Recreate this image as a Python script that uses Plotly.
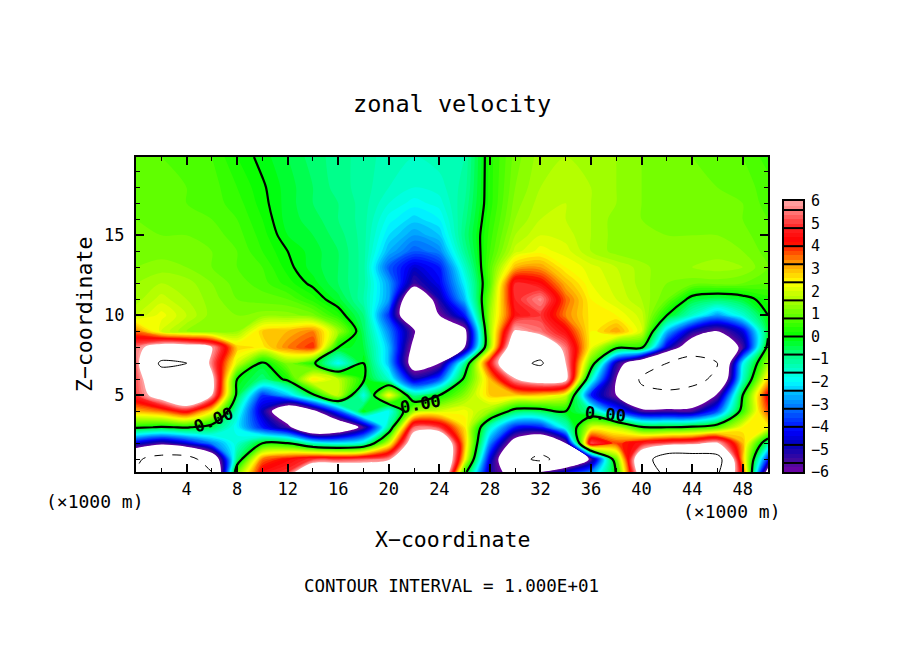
import numpy as np
import plotly.graph_objects as go

x_km = [0,2,4,6,8,10,12,14,16,18,20,22,24,26,28,30,32,34,36,38,40,42,44,46,48,50]
z_km = [0.2,1,2,3,4,5,6,7,8,9,10,11,12,13,14,15,16,17,18,19.9]

u_00 = [-10,-10.5,-11,-10,1,4.5,5,8.5,8.5,8,8.5,9,9.5,.4,-5,-7,-6,-4.5,-3,.1,7.5,11,11,10.5,4,-7]
u_01 = [-9.5,-11.5,-11.5,-8,-.8,3.5,4.3,5,5,5.3,5.8,9,9.8,2.5,-4.5,-9,-10.6,-9,-5.7,1,8,12.5,12.5,11.5,3,-4]
u_02 = [-4.5,-5.5,-4.5,-3,-1.6,0,0,-1.5,-2,-1.5,2,7.5,9,3,-3,-7,-8.5,-6,5.2,3.8,4.6,5.2,5.5,6.2,3,-1]
u_03 = [.2,-.1,.1,-.5,-2,-4,-5.5,-9,-8,-5.5,-1,5.4,5,2.6,-1.5,-4,-4,-1.5,2,1.8,.1,0,.2,.7,2.4,2.4]
u_04 = [3,3.5,4.5,2.5,-1.5,-4.8,-8,-6.5,-3.5,0,-2,1.5,2,2.3,1.4,-.5,-.5,0,-1,-3.5,-5.5,-5.5,-5.5,-3.5,.5,3.8]
u_05 = [5,7,9,6,-.3,-3.8,-2.5,-.2,2,-1.8,2.5,-1,0,1.3,2.8,2.8,2.8,2,-4,-6,-9,-9,-8,-5.8,0,4.4]
u_06 = [5.2,8,8,6.5,0,-.8,.2,2.6,1.8,.1,-1.5,-4.8,-3.5,.3,3,5.9,7,6.5,-1.5,-6,-10.5,-12,-11.5,-9,-1.5,2.8]
u_07 = [5.4,10.6,10.1,5.5,2,-.2,1.2,.2,-2,0,-2.5,-7,-6,-1,4.5,9,10.5,6,.8,-5,-8,-10,-12,-10,-2,1.5]
u_08 = [5.5,7,7,6,2.8,2.5,3.4,4,0,-.4,-2.5,-6.5,-8.8,-6,1.5,8,8,5.5,2.3,.3,.3,-4.5,-7.5,-8.5,-5.5,.4]
u_09 = [3.5,2,1.4,1.2,1.4,2.8,3,3.4,1.5,-.6,-3,-5.8,-8.8,-6.5,1.5,6.2,5.5,4.4,2.4,3.2,2,-2.5,-5,-6,-4.5,-.3]
u_10 = [1.8,2.3,1.8,1.3,1.2,1.3,1.3,1.1,.3,-.8,-3.8,-8.8,-6,-4,1.5,4.5,5,3.4,2.5,2.4,1.9,0,-1.5,-2.8,-1.6,0]
u_11 = [1.5,1.9,1.6,1.3,1,.9,.8,.3,-.3,-1.2,-2.8,-8.5,-5,-2.5,1.2,4.8,5.7,3.6,2.4,2,1.6,1,-.3,-.6,-.3,.3]
u_12 = [1.4,1.6,1.5,1.2,.9,.7,.3,-.1,-.6,-1.1,-2.8,-5.4,-4.3,-2,.8,4.8,4.4,3,2.2,1.9,1.5,1.2,1.1,1.1,1,.8]
u_13 = [1.2,1.3,1.2,1,.8,.6,.1,-.3,-.6,-1.1,-3.4,-4.6,-4,-1.5,.8,3,3.2,2.4,2.1,1.8,1.5,1.2,1.4,1.5,1.4,1]
u_14 = [1.1,1.1,1.1,1,.8,.4,0,-.3,-.6,-1.1,-2.6,-3.4,-3,-1,.6,1.9,2.3,2.1,1.6,1.3,1.2,1.3,1.3,1.3,1.2,.9]
u_15 = [1,1,1,.9,.7,.3,-.2,-.4,-.7,-1.1,-2.2,-2.8,-2.4,-.8,.5,1.6,2,1.9,1.6,1.3,1.2,1.2,1.2,1.2,1.1,.8]
u_16 = [1,.9,.9,.8,.6,.2,-.3,-.5,-.8,-1.1,-1.9,-2.3,-2,-.9,.4,1.4,1.8,1.8,1.6,1.3,1.2,1.1,1.1,1,1,.8]
u_17 = [.9,.9,.8,.7,.5,.1,-.3,-.6,-.8,-1.1,-1.6,-1.9,-1.7,-1,.3,1.3,1.7,1.8,1.6,1.4,1.2,1.1,1.1,1,1,.7]
u_18 = [.9,.9,.8,.7,.4,.05,-.3,-.6,-.9,-1.1,-1.4,-1.6,-1.5,-1.1,.3,1.2,1.6,1.7,1.6,1.4,1.2,1.1,1.1,1,.9,.7]
u_19 = [.9,.8,.7,.6,.2,-.1,-.4,-.7,-.9,-1.1,-1.3,-1.4,-1.3,-1.2,.3,1.1,1.5,1.6,1.5,1.4,1.2,1.1,1,.9,.8,.5]

u_grid = [u_00,u_01,u_02,u_03,u_04,u_05,u_06,u_07,u_08,u_09,u_10,u_11,u_12,u_13,u_14,u_15,u_16,u_17,u_18,u_19]

x_ticks = [4,8,12,16,20,24,28,32,36,40,44,48]
z_ticks = [5,10,15]
bar_ticks = [6,5,4,3,2,1,0,-1,-2,-3,-4,-5,-6]
bar_text = ["6","5","4","3","2","1","0","\u22121","\u22122","\u22123","\u22124","\u22125","\u22126"]
bar_separators = [-5.6,-4.8,-4,-3.2,-2.4,-1.6,-.8,0,.8,1.6,2.4,3.2,4,4.8,5.6]

W, H = 904, 654
OFF = 8   # page margin of the browser view
LIM = 14.0
stops = [(-14,"#ffffff"),(-6.001,"#ffffff"),(-6,"#7000a8"),(-5.6,"#4a0a9a"),(-4.8,"#0000b8"),(-4.2,"#0000ff"),
         (-3.2,"#0070ff"),(-2.4,"#00c8ff"),(-2,"#00ffff"),(-.8,"#00ff80"),(0,"#00ff00"),(1.2,"#80ff00"),
         (2.4,"#ffff00"),(3.2,"#ffa000"),(4.2,"#ff0000"),(4.8,"#ff2020"),(5.6,"#ff8080"),(6,"#ffa8a8"),
         (6.001,"#ffffff"),(14,"#ffffff")]
cscale = [[(v+LIM)/(2*LIM), c] for v, c in stops]

def fx(px): return (px-OFF)/W
def fy(py): return 1-(py-OFF)/H

MONO = "DejaVu Sans Mono"
fig = go.Figure()
fig.add_trace(go.Contour(x=x_km, y=z_km, z=u_grid, colorscale=cscale, zmin=-LIM, zmax=LIM, autocontour=False,
    contours=dict(start=-LIM, end=LIM, size=0.2, coloring="fill", showlines=False),
    line=dict(width=0, smoothing=0.9), showscale=False, hoverinfo="skip"))
fig.add_trace(go.Contour(x=x_km, y=z_km, z=u_grid, autocontour=False,
    contours=dict(start=0, end=0, size=1, coloring="none"),
    line=dict(color="black", width=2.2, smoothing=0.9), showscale=False, hoverinfo="skip"))
fig.add_trace(go.Contour(x=x_km, y=z_km, z=u_grid, autocontour=False,
    contours=dict(start=10, end=10, size=1, coloring="none"),
    line=dict(color="black", width=1, smoothing=0.9), showscale=False, hoverinfo="skip"))
fig.add_trace(go.Contour(x=x_km, y=z_km, z=u_grid, autocontour=False,
    contours=dict(start=-10, end=-10, size=1, coloring="none"),
    line=dict(color="black", width=1, dash="dash", smoothing=0.9), showscale=False, hoverinfo="skip"))

bar_edges = np.arange(-6, 6.0001, 0.2)
bar_mid = (bar_edges[:-1] + bar_edges[1:]) / 2
fig.add_trace(go.Heatmap(x=[0, 1], y=bar_edges, z=[[v] for v in bar_mid], colorscale=cscale, zmin=-LIM, zmax=LIM,
    showscale=False, hoverinfo="skip", xaxis="x2", yaxis="y2"))
sx, sy = [], []
for s in bar_separators:
    sx += [0, 1, None]
    sy += [s, s, None]
fig.add_trace(go.Scatter(x=sx, y=sy, mode="lines", line=dict(color="black", width=2), xaxis="x2", yaxis="y2",
    showlegend=False, hoverinfo="skip"))

def ann(text, px, py, size, angle=0):
    return dict(text=text, x=fx(px), y=fy(py), xref="paper", yref="paper", showarrow=False, xanchor="center",
                yanchor="middle", textangle=angle, font=dict(family=MONO, size=size, color="black"))

annotations = [
    ann("zonal velocity", 452, 104, 23.5),
    ann("X\u2212coordinate", 452, 539, 21.5),
    ann("Z\u2212coordinate", 84, 315, 21.5, angle=-90),
    ann("CONTOUR INTERVAL = 1.000E+01", 451, 586, 17.5),
    ann("(\u00d71000 m)", 95, 501, 18),
    ann("(\u00d71000 m)", 732, 511, 18),
    ann("<b>0.00</b>", 213, 420, 17, angle=-22),
    ann("<b>0.00</b>", 420, 404, 17, angle=-10),
    ann("<b>0.00</b>", 605, 414, 17, angle=5),
]

fig.update_layout(
    width=W, height=H, autosize=False, margin=dict(l=0, r=0, t=0, b=0, pad=0, autoexpand=False),
    paper_bgcolor="white", plot_bgcolor="white", showlegend=False, annotations=annotations,
    font=dict(family=MONO, color="black"),
    xaxis=dict(domain=[fx(136), fx(768)], range=[0, 50], tickmode="array", tickvals=x_ticks, ticktext=[str(t) for t in x_ticks],
        ticks="inside", ticklen=8, tickwidth=2, tickcolor="black", showline=True, linewidth=2, linecolor="black",
        mirror="allticks", showgrid=False, zeroline=False, tickfont=dict(family=MONO, size=17), ticklabelstandoff=1,
        minor=dict(tickmode="linear", tick0=0, dtick=2, ticks="inside", ticklen=4, tickwidth=1, tickcolor="black", showgrid=False)),
    yaxis=dict(domain=[fy(472), fy(157)], range=[0.2, 19.9], tickmode="array", tickvals=z_ticks, ticktext=[str(t) for t in z_ticks],
        ticks="inside", ticklen=8, tickwidth=2, tickcolor="black", showline=True, linewidth=2, linecolor="black",
        mirror="allticks", showgrid=False, zeroline=False, tickfont=dict(family=MONO, size=17), ticklabelstandoff=6,
        minor=dict(tickmode="linear", tick0=0, dtick=1, ticks="inside", ticklen=4, tickwidth=1, tickcolor="black", showgrid=False)),
    xaxis2=dict(domain=[fx(784), fx(803)], range=[0, 1], anchor="y2", showticklabels=False, ticks="", showline=True, linewidth=2,
        linecolor="black", mirror=True, showgrid=False, zeroline=False),
    yaxis2=dict(domain=[fy(472), fy(201)], range=[-6, 6], anchor="x2", side="right", tickmode="array", tickvals=bar_ticks,
        ticktext=bar_text, ticks="outside", ticklen=3, tickcolor="rgba(0,0,0,0)", showline=True, linewidth=2, linecolor="black",
        mirror=True, showgrid=False, zeroline=False, tickfont=dict(family=MONO, size=15)),
)
fig.write_html("out.html")
